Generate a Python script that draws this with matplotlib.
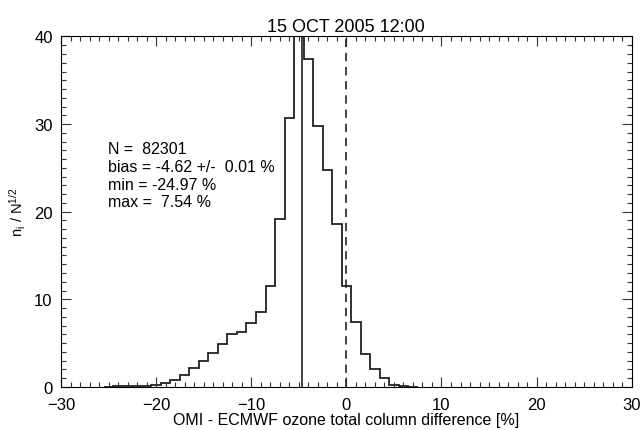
import numpy as np
import matplotlib.pyplot as plt
from matplotlib.ticker import MultipleLocator

plt.rcParams['font.family'] = ['Liberation Sans', 'DejaVu Sans']
plt.rcParams['mathtext.fontset'] = 'custom'
plt.rcParams['mathtext.rm'] = 'Liberation Sans'
plt.rcParams['mathtext.it'] = 'Liberation Sans'

# histogram of relative differences, 1 % bins centred on integers
bin_centers = np.arange(-25, 8)
counts = [0.03, 0.05, 0.06, 0.08, 0.1, 0.2, 0.45, 0.8, 1.35, 2.2,
          3.0, 3.85, 4.9, 6.0, 6.3, 7.3, 8.5, 11.5, 19.2, 30.7,
          42.0, 37.4, 29.8, 24.8, 18.6, 11.5, 7.4, 3.8, 2.0, 1.05,
          0.2, 0.1, 0.03]
bias = -4.62
stats_lines = ['N =  82301', 'bias = -4.62 +/-  0.01 %',
               'min = -24.97 %', 'max =  7.54 %']

edges = np.append(bin_centers - 0.5, bin_centers[-1] + 0.5)

fig = plt.figure(figsize=(6.42, 4.31), dpi=100)
ax = fig.add_axes([0.095, 0.100, 0.889, 0.813])

ax.stairs(counts, edges, baseline=0, color='#222222', lw=1.3)
ax.plot([bias, bias], [0, 40], color='#222222', lw=1.2)
ax.plot([0, 0], [0, 40], color='#222222', lw=1.2, dashes=(5, 3.5))

ax.set_xlim(-30, 30)
ax.set_ylim(0, 40)
ax.xaxis.set_major_locator(MultipleLocator(10))
ax.xaxis.set_minor_locator(MultipleLocator(1))
ax.yaxis.set_major_locator(MultipleLocator(10))
ax.yaxis.set_minor_locator(MultipleLocator(1))
ax.tick_params(which='both', direction='in', top=True, right=True,
               width=0.8, labelsize=12, color='#333333')
ax.tick_params(which='major', length=7.5)
ax.tick_params(which='minor', length=3.6)
ax.tick_params(axis='x', which='major', pad=7)
ax.tick_params(axis='y', which='major', pad=6)
for s in ax.spines.values():
    s.set_linewidth(0.8)

ax.set_title('15 OCT 2005 12:00', fontsize=13, pad=4)
ax.set_xlabel('OMI - ECMWF ozone total column difference [%]', fontsize=11.5,
              labelpad=0)
ax.set_ylabel(r'n$_\mathrm{i}$ / N$^\mathrm{1/2}$', fontsize=10.5, labelpad=4)

for i, line in enumerate(stats_lines):
    ax.text(-25.1, 27.2 - i * 2.02, line, fontsize=11.5, va='center', ha='left')

fig.savefig('out.png', dpi=100)
